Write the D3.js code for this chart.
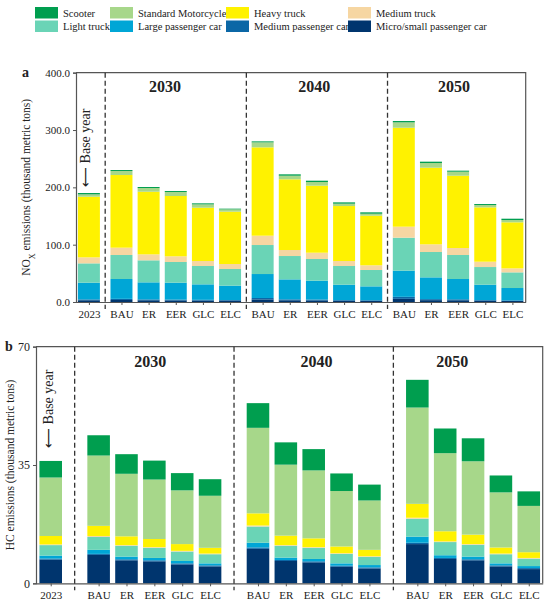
<!DOCTYPE html>
<html>
<head>
<meta charset="utf-8">
<script src="https://cdn.jsdelivr.net/npm/d3@7"></script>
<style>
  body { margin: 0; background: #fff; }
  text { font-family: "Liberation Serif", "Times New Roman", serif; fill: #222; }
</style>
</head>
<body>
<div id="chart"></div>
<script>
// categories along the x axis, and which block each belongs to (0 = base year)
var scenarios = ["2023", "BAU", "ER", "EER", "GLC", "ELC", "BAU", "ER", "EER", "GLC", "ELC", "BAU", "ER", "EER", "GLC", "ELC"];
var blockOf   = [0, 1, 1, 1, 1, 1, 2, 2, 2, 2, 2, 3, 3, 3, 3, 3];
var blockNames = ["2030", "2040", "2050"];

var vehicles = ["Micro/small passenger car", "Medium passenger car", "Large passenger car", "Light truck",
                "Medium truck", "Heavy truck", "Standard Motorcycle", "Scooter"];
var colors = ["#00356e", "#0b67a6", "#00a6d6", "#6ad4b6", "#f6d6a2", "#fff200", "#a7d78a", "#009e4f"];

// legend order as in the figure
var legendOrder = ["Scooter", "Standard Motorcycle", "Heavy truck", "Medium truck",
                   "Light truck", "Large passenger car", "Medium passenger car", "Micro/small passenger car"];

// NOx emissions (thousand metric tons)
var noxMicro  = [3.0, 3.5, 3.0, 2.8, 2.5, 2.3, 4.5, 3.0, 2.8, 2.2, 2.0, 5.5, 3.2, 3.0, 2.2, 1.8];
var noxMedium = [1.5, 2.0, 1.5, 1.4, 1.3, 1.2, 2.5, 1.6, 1.5, 1.2, 1.1, 3.5, 1.8, 1.7, 1.2, 1.0];
var noxLarge  = [29.2, 34.6, 29.8, 29.5, 27.0, 25.0, 41.8, 34.9, 32.9, 26.8, 24.2, 45.7, 38.0, 35.4, 26.8, 21.6];
var noxLightT = [33.7, 41.9, 38.4, 36.1, 32.0, 29.1, 50.6, 40.7, 37.8, 32.6, 28.5, 57.5, 44.2, 41.9, 30.8, 27.3];
var noxMedT   = [10.5, 12.8, 10.4, 9.9, 8.7, 8.7, 16.3, 10.5, 11.0, 8.7, 8.2, 19.2, 13.4, 12.2, 9.3, 7.0];
var noxHeavyT = [105.8, 126.7, 109.3, 105.2, 93.0, 91.3, 154.1, 123.3, 116.9, 95.9, 86.6, 172.6, 133.7, 126.1, 94.8, 80.3];
var noxMoto   = [4.1, 7.0, 6.4, 7.0, 5.8, 4.0, 8.7, 6.3, 6.4, 4.1, 3.4, 9.4, 8.1, 7.0, 4.1, 4.0];
var noxScoot  = [2.3, 1.7, 1.8, 1.7, 1.8, 1.2, 1.7, 2.4, 2.3, 2.3, 2.4, 2.3, 2.4, 1.8, 1.7, 2.3];
var noxTicks  = [0, 100, 200, 300, 400];

// HC emissions (thousand metric tons)
var hcMicro  = [7.0, 8.4, 6.8, 6.5, 5.6, 5.0, 10.2, 6.6, 6.2, 4.9, 4.4, 11.6, 7.2, 6.8, 5.0, 4.2];
var hcMedium = [0.3, 0.3, 0.3, 0.3, 0.3, 0.3, 0.4, 0.3, 0.3, 0.3, 0.3, 0.4, 0.3, 0.3, 0.3, 0.3];
var hcLarge  = [0.9, 1.2, 0.8, 0.7, 0.7, 0.6, 1.4, 0.7, 0.7, 0.7, 0.7, 1.8, 0.8, 0.8, 0.6, 0.6];
var hcLightT = [3.1, 3.8, 3.2, 3.0, 2.8, 2.7, 4.8, 3.5, 3.3, 2.8, 2.4, 5.3, 3.9, 3.5, 2.7, 2.2];
var hcMedT   = [0.2, 0.3, 0.2, 0.2, 0.2, 0.2, 0.3, 0.2, 0.2, 0.2, 0.2, 0.3, 0.2, 0.2, 0.2, 0.2];
var hcHeavyT = [2.5, 3.0, 2.6, 2.4, 2.0, 1.7, 3.6, 2.8, 2.6, 2.0, 1.9, 4.1, 3.0, 2.8, 1.8, 1.7];
var hcMoto   = [17.3, 20.8, 18.5, 17.6, 15.9, 15.4, 25.3, 21.0, 20.1, 16.4, 14.6, 28.5, 23.1, 21.7, 16.3, 13.7];
var hcScoot  = [4.9, 6.0, 5.8, 5.6, 5.1, 4.9, 7.3, 6.6, 6.3, 5.2, 4.7, 8.2, 7.3, 6.8, 5.0, 4.3];
var hcTicks  = [0, 35, 70];

var svgWidth = 550;
var svgHeight = 606;

var svg = d3.select("#chart")
  .append("svg")
  .attr("width", svgWidth)
  .attr("height", svgHeight);

// ---- legend ----
var legend = svg.append("g");
var legendCols = [35, 110, 226, 348];
legendOrder.forEach(function(name, i) {
  var col = i % 4, row = Math.floor(i / 4);
  var g = legend.append("g")
    .attr("transform", `translate(${legendCols[col]}, ${7 + row * 13.5})`);
  g.append("rect")
    .attr("width", 23)
    .attr("height", 11.5)
    .attr("fill", colors[vehicles.indexOf(name)]);
  g.append("text")
    .attr("x", 28)
    .attr("y", 9.8)
    .style("font-size", "10.5px")
    .text(name);
});

// build one stacked panel
function drawPanel(opt) {
  var rows = scenarios.map(function(s, i) {
    var r = { idx: i, name: s };
    vehicles.forEach(function(v, k) { r[v] = opt.series[k][i]; });
    return r;
  });
  var stacked = d3.stack().keys(vehicles)(rows);

  // slot index with an extra gap between the year blocks
  var slot = function(i) { return i + blockOf[i] * opt.gap; };
  var xScale = d3.scaleLinear()
    .domain(opt.slotDomain)
    .range([opt.left, opt.right]);
  var yScale = d3.scaleLinear()
    .domain(opt.yDomain)
    .range([opt.bottom, opt.top]);

  var g = svg.append("g");

  // bars
  g.selectAll("g.layer")
    .data(stacked)
    .enter()
    .append("g")
    .attr("fill", function(d, k) { return colors[k]; })
    .selectAll("rect")
    .data(function(d) { return d; })
    .enter()
    .append("rect")
    .attr("x", function(d) { return xScale(slot(d.data.idx) - opt.barW / 2); })
    .attr("width", xScale(opt.barW) - xScale(0))
    .attr("y", function(d) { return yScale(d[1]); })
    .attr("height", function(d) { return yScale(d[0]) - yScale(d[1]); });

  // frame: top and right lines
  g.append("path")
    .attr("d", `M${opt.left},${opt.top}H${opt.right}V${opt.bottom}`)
    .attr("fill", "none")
    .attr("stroke", "#555")
    .attr("stroke-width", 1.2);

  // left axis
  var leftAxis = d3.axisLeft(yScale)
    .tickValues(opt.ticks)
    .tickSize(3)
    .tickFormat(opt.fmt);
  var ya = g.append("g")
    .attr("transform", `translate(${opt.left},0)`)
    .call(leftAxis);
  ya.select(".domain").attr("stroke", "#555").attr("stroke-width", 1.2);
  ya.selectAll(".tick line").attr("stroke", "#555");
  ya.selectAll("text")
    .style("font-family", "Liberation Serif")
    .style("font-size", opt.tickSize)
    .attr("fill", "#222");

  // bottom axis
  var bottomAxis = d3.axisBottom(xScale)
    .tickValues(scenarios.map(function(s, i) { return slot(i); }))
    .tickSize(3)
    .tickSizeOuter(0)
    .tickFormat(function(d, i) { return scenarios[i]; });
  var xa = g.append("g")
    .attr("transform", `translate(0,${opt.bottom})`)
    .call(bottomAxis);
  xa.select(".domain").attr("stroke", "#555").attr("stroke-width", 1.2);
  xa.selectAll(".tick line").attr("stroke", "#555");
  xa.selectAll("text")
    .style("font-family", "Liberation Serif")
    .style("font-size", "11px")
    .attr("fill", "#222")
    .attr("dy", "0.9em");

  // dashed separators and block titles
  for (var b = 0; b < 3; b++) {
    var first = blockOf.indexOf(b + 1);
    var sep = (slot(first - 1) + slot(first)) / 2;
    g.append("line")
      .attr("x1", xScale(sep)).attr("x2", xScale(sep))
      .attr("y1", opt.top).attr("y2", opt.bottom + 7)
      .attr("stroke", "#333")
      .attr("stroke-width", 1.3)
      .attr("stroke-dasharray", "5,3");
    var mid = slot(first + 2) + opt.titleShift[b];
    g.append("text")
      .attr("x", xScale(mid))
      .attr("y", opt.top + opt.titleDy)
      .attr("text-anchor", "middle")
      .style("font-size", "16px")
      .style("font-weight", "bold")
      .text(blockNames[b]);
  }

  // base year note
  var note = g.append("text")
    .attr("transform", `translate(${xScale(0) + opt.baseDx}, ${opt.baseY}) rotate(-90)`)
    .style("font-size", "14px");
  note.append("tspan")
    .style("font-family", "DejaVu Sans")
    .text("\u27F5");
  note.append("tspan").text(" Base year");

  // panel letter
  g.append("text")
    .attr("x", opt.letterX)
    .attr("y", opt.top + 4)
    .style("font-size", "14px")
    .style("font-weight", "bold")
    .text(opt.letter);

  // y title
  var t = g.append("text")
    .attr("transform", `translate(${opt.titleX}, ${(opt.top + opt.bottom) / 2}) rotate(-90)`)
    .attr("text-anchor", "middle")
    .style("font-size", "11.5px");
  opt.yTitle(t);
}

drawPanel({
  series: [noxMicro, noxMedium, noxLarge, noxLightT, noxMedT, noxHeavyT, noxMoto, noxScoot],
  left: 76, right: 525.7, top: 72.7, bottom: 302,
  gap: 0.2, slotDomain: [-0.475, 16.09], barW: 0.81,
  yDomain: [0, 400], ticks: noxTicks, fmt: d3.format(".1f"), tickSize: "11px",
  titleShift: [-0.4, -0.1, -0.15], titleDy: 19,
  baseY: 187, baseDx: 1.5, letter: "a", letterX: 22, titleX: 30,
  yTitle: function(t) {
    t.append("tspan").text("NO");
    t.append("tspan").attr("baseline-shift", "sub").style("font-size", "8px").text("X");
    t.append("tspan").text(" emissions (thousand metric tons)");
  }
});

drawPanel({
  series: [hcMicro, hcMedium, hcLarge, hcLightT, hcMedT, hcHeavyT, hcMoto, hcScoot],
  left: 36, right: 542.7, top: 346.7, bottom: 583.3,
  gap: 0.72, slotDomain: [-0.528, 17.66], barW: 0.81,
  yDomain: [0, 70], ticks: hcTicks, fmt: d3.format("d"), tickSize: "12px",
  titleShift: [-0.15, 0.1, -0.75], titleDy: 20,
  baseY: 448, baseDx: 2, letter: "b", letterX: 5, titleX: 14,
  yTitle: function(t) {
    t.text("HC emissions (thousand metric tons)");
  }
});
</script>
</body>
</html>
